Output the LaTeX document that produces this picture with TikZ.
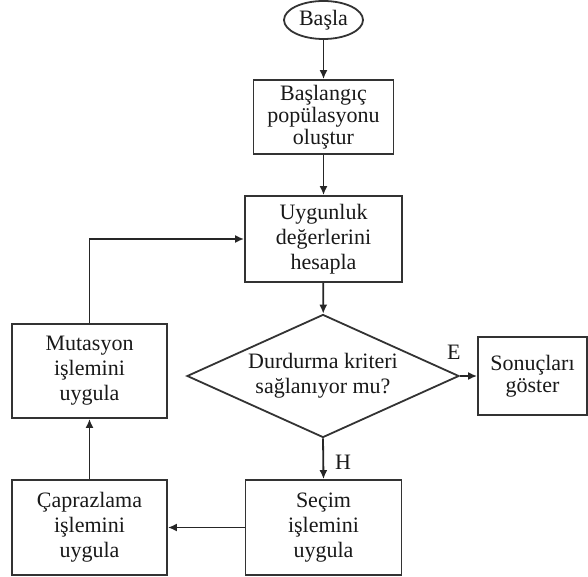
\documentclass[tikz,border=0pt]{standalone}
\usepackage{fontspec}
\setmainfont{Liberation Serif}
\usetikzlibrary{positioning, shapes.geometric, arrows.meta}

\begin{document}
\begin{tikzpicture}[x=1pt, y=1pt,
  stepbox/.style={draw=black!80, line width=1.8pt, fill=white, align=center,
                  text=black!90, font=\fontsize{22}{25}\selectfont, inner sep=2pt},
  term/.style={stepbox, ellipse, minimum width=79pt, minimum height=38pt, inner sep=0pt},
  decide/.style={stepbox, diamond, aspect=2.2, inner sep=0pt,
                 minimum width=272pt, minimum height=123pt},
  lbl/.style={font=\fontsize{22}{25}\selectfont, text=black!90, inner sep=0pt},
  flow/.style={draw=black!85, line width=1.8pt, -{Latex[length=9pt,width=8pt]}},
]
\useasboundingbox (0,0) rectangle (588,576);

% main column
\node[term] (start) at (323.5,556) {Başla};
\node[stepbox, minimum width=140pt, minimum height=74pt,
      font=\fontsize{22}{22}\selectfont] (init) at (323.5,459)
  {Başlangıç\\popülasyonu\\oluştur};
\node[stepbox, minimum width=157pt, minimum height=86pt] (fit) at (323.5,337)
  {Uygunluk\\değerlerini\\hesapla};
\node[decide] (stop) at (323,200) {Durdurma kriteri\\sağlanıyor mu?};
\node[stepbox, minimum width=109pt, minimum height=78pt,
      font=\fontsize{22}{22}\selectfont] (show) at (532.5,200)
  {Sonuçları\\göster};

% loop
\node[stepbox, minimum width=156pt, minimum height=95pt] (sel) at (323.5,48.5)
  {Seçim\\işlemini\\uygula};
\node[stepbox, minimum width=155pt, minimum height=95pt] (cross) at (89.5,48.5)
  {Çaprazlama\\işlemini\\uygula};
\node[stepbox, minimum width=155pt, minimum height=94pt] (mut) at (89.5,205)
  {Mutasyon\\işlemini\\uygula};

\draw[flow] (start) -- (init);
\draw[flow] (init) -- (fit);
\draw[flow] (fit) -- (stop);
\draw[flow] (stop.east) -- (show.west);
\draw[flow] (stop.south) -- (sel.north);
\draw[flow] (sel.west) -- (cross.east);
\draw[flow] (cross.north) -- (mut.south);
\draw[flow] (mut.north) |- (fit.west);

\node[lbl] (yes) at ([xshift=-6pt,yshift=24pt]stop.east) {E};
\node[lbl] (no) at ([xshift=20pt,yshift=-24pt]stop.south) {H};
\end{tikzpicture}
\end{document}
